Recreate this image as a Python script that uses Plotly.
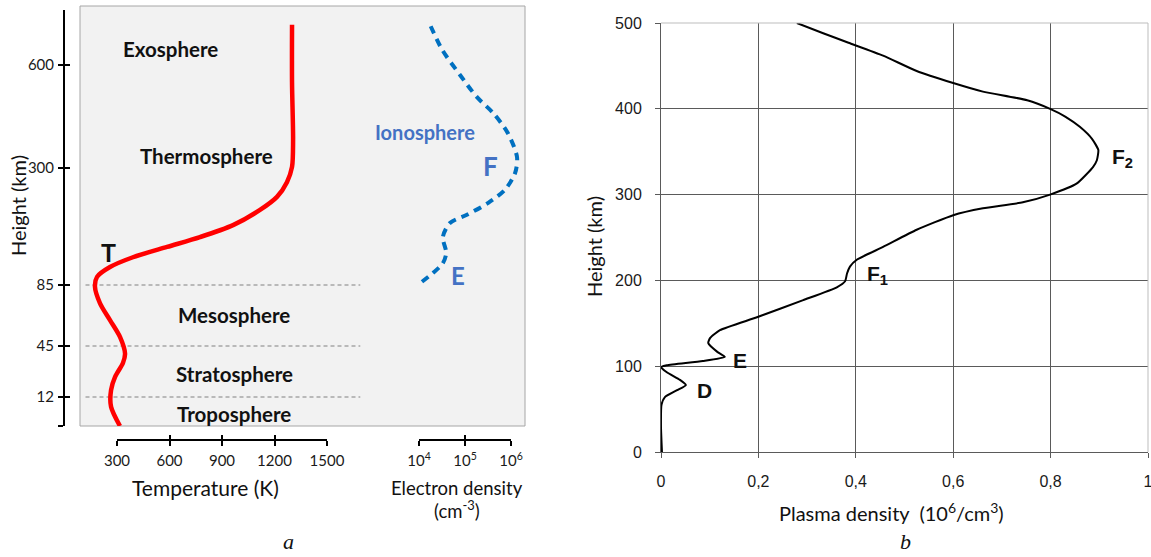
import numpy as np
import plotly.graph_objects as go

W, H = 1151, 557

# ---------------- Panel a data ----------------
# non-linear height scale of panel a: tick heights (km) and their axis positions
H_TICK_KM = [0, 12, 45, 85, 300, 600]
H_TICK_POS = [0, 29, 80, 141, 258, 361]
H_TICK_TEXT = ["", "12", "45", "85", "300", "600"]

temp_height_km = [0, 8, 16.5, 25, 34, 40, 51, 62, 73, 84, 100, 118, 136, 155,
                  173, 195, 223, 247, 274, 303, 382, 548, 717]
temp_K = [317, 266, 266, 289, 334, 346, 317, 260, 203, 174, 186, 260, 391, 586,
          774, 963, 1117, 1214, 1271, 1300, 1306, 1300, 1300]

ne_height_km = [91, 107, 125, 144, 173, 199, 214, 236, 260, 291, 332, 402, 460,
                507, 571, 644, 720]
ne_cm3 = [1.16e4, 2.0e4, 3.3e4, 3.9e4, 3.3e4, 4.7e4, 1.1e5, 3.2e5, 7.4e5,
          1.23e6, 1.35e6, 8.5e5, 4.1e5, 1.8e5, 7.8e4, 3.2e4, 1.7e4]

layer_boundaries_km = [12, 45, 85]
temp_ticks = [300, 600, 900, 1200, 1500]
ne_ticks = [1e4, 1e5, 1e6]
ne_tick_text = ["10<sup>4</sup>", "10<sup>5</sup>", "10<sup>6</sup>"]

# ---------------- Panel b data ----------------
plasma_height_km = [0, 29, 55, 64, 72, 78, 84, 93, 99, 101, 106, 111, 117, 127,
                    133, 142, 157, 177, 192, 199, 208, 216, 224, 239, 259, 276,
                    284, 291, 300, 313, 332, 340, 352, 365, 379, 391, 400, 410,
                    420, 430, 444, 462, 477, 488, 500]
plasma_density = [0.002, 0.0, 0.001, 0.008, 0.033, 0.051, 0.039, 0.012, 0.0,
                  0.012, 0.086, 0.131, 0.115, 0.097, 0.101, 0.121, 0.197, 0.292,
                  0.361, 0.378, 0.382, 0.388, 0.402, 0.456, 0.525, 0.600, 0.661,
                  0.743, 0.799, 0.854, 0.887, 0.895, 0.898, 0.885, 0.860, 0.830,
                  0.799, 0.752, 0.661, 0.600, 0.525, 0.456, 0.385, 0.333, 0.279]
b_xticks = [0, 0.2, 0.4, 0.6, 0.8, 1.0]
b_xtick_text = ["0", "0,2", "0,4", "0,6", "0,8", "1"]
b_yticks = [0, 100, 200, 300, 400, 500]


def h2pos(h):
    h = np.asarray(h, dtype=float)
    slope = (H_TICK_POS[-1] - H_TICK_POS[-2]) / (H_TICK_KM[-1] - H_TICK_KM[-2])
    p = np.interp(h, H_TICK_KM, H_TICK_POS)
    return np.where(h > H_TICK_KM[-1], H_TICK_POS[-1] + (h - H_TICK_KM[-1]) * slope, p)


def px(x):
    return x / W


def py(y):
    return 1 - y / H


CAL = "Lato"
ARIAL = "Liberation Sans"

fig = go.Figure()

# red temperature profile
fig.add_trace(go.Scatter(x=temp_K, y=h2pos(temp_height_km), mode="lines",
                         line=dict(color="#ff0000", width=4.5, shape="spline", smoothing=0.8),
                         xaxis="x", yaxis="y", showlegend=False, hoverinfo="skip"))
# blue electron-density profile
fig.add_trace(go.Scatter(x=ne_cm3, y=h2pos(ne_height_km), mode="lines",
                         line=dict(color="#0070c0", width=4, dash="8px,6px",
                                   shape="spline", smoothing=0.8),
                         xaxis="x2", yaxis="y", showlegend=False, hoverinfo="skip"))
# dummy traces for the free-standing axes
for xa, ya in [("x3", "y"), ("x4", "y"), ("x5", "y"), ("x6", "y"), ("x", "y2"), ("x", "y3")]:
    fig.add_trace(go.Scatter(x=[None], y=[None], xaxis=xa, yaxis=ya,
                             showlegend=False, hoverinfo="skip"))
# panel b plasma density
fig.add_trace(go.Scatter(x=plasma_density, y=plasma_height_km, mode="lines",
                         line=dict(color="#000000", width=2, shape="spline", smoothing=0.5),
                         xaxis="x7", yaxis="y4", showlegend=False, hoverinfo="skip"))

ydom_a = [py(426), py(6)]
axis_pos_y = py(440)
tick_font_a = dict(family=CAL, size=15, color="#1a1a1a")

common_free = dict(anchor="free", position=axis_pos_y, showgrid=False, zeroline=False,
                   tickcolor="black", tickwidth=2, ticklen=5, automargin=False)

fig.update_layout(
    width=W, height=H, margin=dict(l=0, r=0, t=0, b=0, autoexpand=False),
    paper_bgcolor="white", plot_bgcolor="rgba(0,0,0,0)", showlegend=False,
    xaxis=dict(domain=[px(80), px(525)], range=[88.6, 2631], visible=False, anchor="y",
               automargin=False),
    yaxis=dict(domain=ydom_a, range=[0, 420], visible=False, anchor="x", automargin=False),
    xaxis2=dict(overlaying="x", type="log", range=[-3.37, 6.304], visible=False, anchor="y",
                automargin=False),
    xaxis3=dict(domain=[px(117), px(327)], range=[300, 1500], showline=True, linecolor="black",
                linewidth=2, ticks="outside", tickvals=temp_ticks, tickfont=tick_font_a,
                ticklabelstandoff=2, **common_free),
    xaxis4=dict(domain=[px(117), px(327)], range=[300, 1500], showline=False, ticks="inside",
                tickvals=temp_ticks, showticklabels=False, **common_free),
    xaxis5=dict(domain=[px(419), px(511)], type="log", range=[4, 6], showline=True,
                linecolor="black", linewidth=2, ticks="outside", tickvals=ne_ticks,
                ticktext=ne_tick_text, tickfont=tick_font_a, ticklabelstandoff=2, **common_free),
    xaxis6=dict(domain=[px(419), px(511)], type="log", range=[4, 6], showline=False,
                ticks="inside", tickvals=ne_ticks, showticklabels=False, **common_free),
    yaxis2=dict(domain=[py(426), py(10)], range=[0, 416], anchor="free", position=px(64),
                side="left", showline=True, linecolor="black", linewidth=2, ticks="outside",
                ticklen=5, tickwidth=2, tickcolor="black", tickvals=H_TICK_POS,
                ticktext=H_TICK_TEXT, tickfont=tick_font_a, showgrid=False, zeroline=False,
                ticklabelstandoff=1, automargin=False),
    yaxis3=dict(domain=[py(426), py(10)], range=[0, 416], anchor="free", position=px(64),
                side="left", showline=False, ticks="inside", ticklen=5, tickwidth=2,
                tickcolor="black", tickvals=H_TICK_POS, showticklabels=False,
                showgrid=False, zeroline=False, automargin=False),
    xaxis7=dict(domain=[px(661), px(1148)], range=[0, 1], anchor="y4", showgrid=True,
                gridcolor="#5a5a5a", gridwidth=1, showline=True, linecolor="#5a5a5a",
                linewidth=1, ticks="outside", ticklen=5, tickcolor="#5a5a5a",
                tickvals=b_xticks, ticktext=b_xtick_text, zeroline=False, automargin=False,
                ticklabeloverflow="allow",
                tickfont=dict(family=ARIAL, size=16, color="#1a1a1a"), ticklabelstandoff=10),
    yaxis4=dict(domain=[py(452), py(23)], range=[0, 500], anchor="x7", showgrid=True,
                gridcolor="#5a5a5a", gridwidth=1, showline=True, linecolor="#5a5a5a",
                linewidth=1, ticks="outside", ticklen=5, tickcolor="#5a5a5a",
                tickvals=b_yticks, zeroline=False, automargin=False,
                ticklabeloverflow="allow",
                tickfont=dict(family=ARIAL, size=16, color="#1a1a1a"), ticklabelstandoff=10),
)

shapes = [
    dict(type="rect", xref="x domain", yref="y domain", x0=0, x1=1, y0=0, y1=1,
         fillcolor="#f2f2f2", line=dict(color="#a6a6a6", width=1), layer="below"),
]
for hk in layer_boundaries_km:
    yv = float(h2pos(hk))
    shapes.append(dict(type="line", xref="x", yref="y", x0=120, x1=1690, y0=yv, y1=yv,
                       line=dict(color="#808080", width=1, dash="4px,3px"), layer="below"))
shapes += [
    dict(type="line", xref="x7 domain", yref="y4 domain", x0=0, x1=1, y0=1, y1=1,
         line=dict(color="#bdbdbd", width=1), layer="above"),
    dict(type="line", xref="x7 domain", yref="y4 domain", x0=1, x1=1, y0=0, y1=1,
         line=dict(color="#bdbdbd", width=1), layer="above"),
]
fig.update_layout(shapes=shapes)


def ann(text, x, y, size, family=CAL, color="#111111", angle=0, xanchor="center"):
    return dict(text=text, x=px(x), y=py(y), xref="paper", yref="paper", showarrow=False,
                xanchor=xanchor, yanchor="middle", textangle=angle,
                font=dict(family=family, size=size, color=color))


annotations = [
    ann("<b>Exosphere</b>", 170, 49, 20.5),
    ann("<b>Thermosphere</b>", 206, 156, 20.5),
    ann("<b>Mesosphere</b>", 234, 315, 20.5),
    ann("<b>Stratosphere</b>", 234, 374, 20.5),
    ann("<b>Troposphere</b>", 234, 414, 20.5),
    ann("<b>T</b>", 108, 252, 25),
    ann("<b>Ionosphere</b>", 425, 132, 20, color="#4472c4"),
    ann("<b>F</b>", 490, 166, 26, color="#4472c4"),
    ann("<b>E</b>", 458, 276, 24, color="#4472c4"),
    ann("Height (km)", 18, 206, 20, angle=-90),
    ann("Temperature (K)", 205, 487, 21),
    ann("Electron density", 457, 488, 18.5),
    ann("(cm<sup>-3</sup>)", 457, 509, 18.5),
    ann("<i>a</i>", 289, 541, 22, family="Liberation Serif"),
    # panel b
    ann("<b>F<sub>2</sub></b>", 1122, 158, 21, family=ARIAL),
    ann("<b>F<sub>1</sub></b>", 877, 275, 21, family=ARIAL),
    ann("<b>E</b>", 740, 360, 21, family=ARIAL),
    ann("<b>D</b>", 704, 390, 21, family=ARIAL),
    ann("Height (km)", 594, 247, 20, angle=-90),
    ann("Plasma density  (10<sup>6</sup>/cm<sup>3</sup>)", 891, 512, 20),
    ann("<i>b</i>", 905, 541, 22, family="Liberation Serif"),
]
fig.update_layout(annotations=annotations)

fig.write_html("out.html", config={"displayModeBar": False},
               post_script="document.body.style.margin='0';document.body.style.overflow='hidden';")
